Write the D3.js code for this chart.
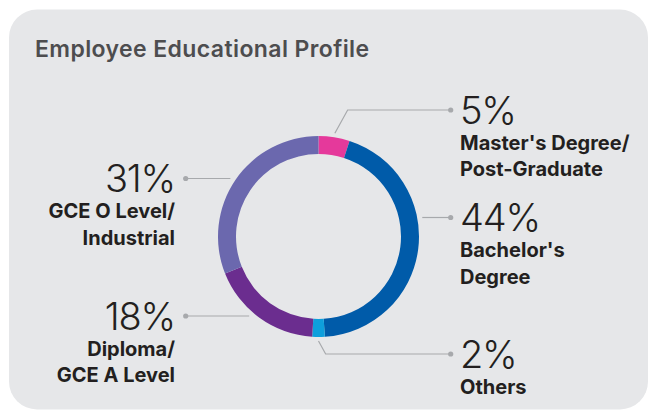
<!DOCTYPE html>
<html>
<head>
<meta charset="utf-8">
<script src="https://cdn.jsdelivr.net/npm/d3@7"></script>
<style>
  body { margin: 0; background: #fff; }
  text { font-family: Inter, "Noto Sans", sans-serif; }
</style>
</head>
<body>
<svg width="649" height="412"></svg>
<script>
var title = "Employee Educational Profile";

// segments clockwise from 12 o'clock
var categories = [["Master's Degree/", "Post-Graduate"],
                  ["Bachelor's", "Degree"],
                  ["Others"],
                  ["Diploma/", "GCE A Level"],
                  ["GCE O Level/", "Industrial"]];
var values = [5, 44, 2, 18, 31];
var colors = ["#e5399b", "#005ba9", "#0e9fdc", "#6b2d8f", "#6b68ae"];

// label placement (layout only)
var labelSide = ["right", "right", "right", "left", "left"];
var labelY = [110, 217.5, 354, 316, 178.5];

var svg = d3.select("svg");
var cx = 318.5, cy = 236.5, outerR = 100.5, innerR = 82.5;

svg.append("rect")
  .attr("x", 9).attr("y", 9.5)
  .attr("width", 639).attr("height", 400)
  .attr("rx", 28).attr("ry", 28)
  .attr("fill", "#e6e7e9");

svg.append("text")
  .attr("x", 35).attr("y", 57.3)
  .attr("font-size", 23)
  .attr("font-weight", 600)
  .attr("letter-spacing", 0.4)
  .attr("fill", "#4d4d4f")
  .text(title);

var data = values.map(function(v, i) {
  return {value: v, lines: categories[i], color: colors[i], side: labelSide[i], ly: labelY[i]};
});

var pie = d3.pie().sort(null).value(function(d) { return d.value; });
var arc = d3.arc().innerRadius(innerR).outerRadius(outerR);
var arcs = pie(data);

var g = svg.append("g").attr("transform", "translate(" + cx + "," + cy + ")");

g.selectAll("path.seg")
  .data(arcs)
  .enter().append("path")
  .attr("class", "seg")
  .attr("d", arc)
  .attr("fill", function(d) { return d.data.color; });

// leader lines
var dotRightX = 450.7 - cx, dotLeftX = 185.7 - cx;
arcs.forEach(function(a) {
  var d = a.data;
  var dy = d.ly - cy;
  var pts;
  var dotX = d.side === "right" ? dotRightX : dotLeftX;
  if (Math.abs(dy) > 90) {
    // elbow lines from the segment middle
    var mid = (a.startAngle + a.endAngle) / 2;
    var r = outerR + 4;
    var sx = r * Math.sin(mid), sy = -r * Math.cos(mid);
    var ex = sx + 0.55 * Math.abs(dy - sy);
    pts = [[sx, sy], [ex, dy], [dotX, dy]];
  } else {
    var R = outerR + 5;
    var sx2 = Math.sqrt(R * R - dy * dy) * (d.side === "right" ? 1 : -1);
    pts = [[sx2, dy], [dotX, dy]];
  }
  g.append("path")
    .attr("d", d3.line()(pts))
    .attr("fill", "none")
    .attr("stroke", "#a7a9ac")
    .attr("stroke-width", 1.2);
  g.append("circle")
    .attr("cx", dotX).attr("cy", dy)
    .attr("r", 2.6)
    .attr("fill", "#a7a9ac");
});

// labels
var lab = svg.selectAll("g.label")
  .data(data)
  .enter().append("g")
  .attr("class", "label");

lab.append("text")
  .attr("x", function(d) { return d.side === "right" ? 460 : 175; })
  .attr("y", function(d) { return d.ly + 13.5; })
  .attr("text-anchor", function(d) { return d.side === "right" ? "start" : "end"; })
  .attr("font-size", 38)
  .attr("font-weight", 300)
  .attr("letter-spacing", -1.2)
  .attr("fill", "#231f20")
  .text(function(d) { return d.value + "%"; });

lab.each(function(d) {
  var t = d3.select(this).append("text")
    .attr("text-anchor", d.side === "right" ? "start" : "end")
    .attr("font-size", 20)
    .attr("font-weight", 700)
    .attr("fill", "#231f20");
  d.lines.forEach(function(line, j) {
    t.append("tspan")
      .attr("x", d.side === "right" ? 460 : 175)
      .attr("y", d.ly + 39.5 + j * 26.7)
      .text(line);
  });
});
</script>
</body>
</html>
